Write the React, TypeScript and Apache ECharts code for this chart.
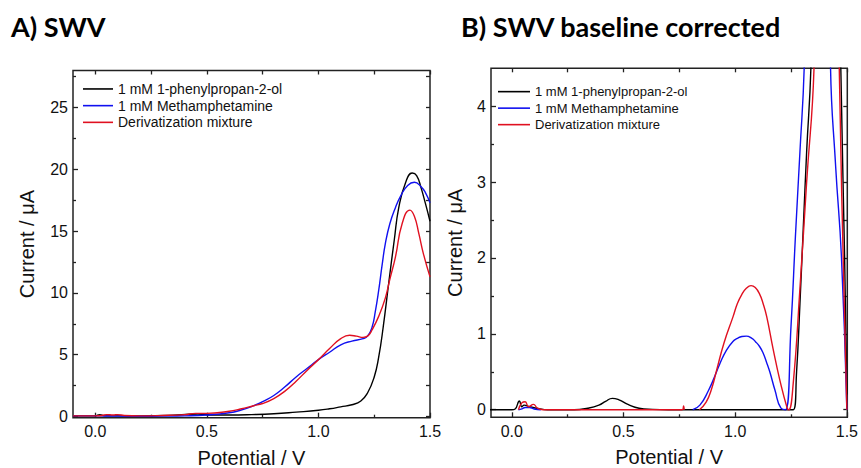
import React, { useEffect, useRef } from "react";
import * as echarts from "echarts";

// ---------- Series names ----------
const NAMES = ["1 mM 1-phenylpropan-2-ol", "1 mM Methamphetamine", "Derivatization mixture"];
const COLORS = ["#000000", "#1010f0", "#e01020"];

// ---------- Panel A (SWV) ----------
const aBlackX = [-0.1, 0.0, 0.02, 0.04, 0.08, 0.2, 0.35, 0.42, 0.46, 0.52, 0.6, 0.7, 0.8, 0.9, 1.0, 1.05, 1.1, 1.15, 1.19, 1.22, 1.25, 1.27, 1.29, 1.315, 1.34, 1.36, 1.39, 1.42, 1.44, 1.46, 1.48, 1.5];
const aBlackY = [0.05, 0.05, 0.15, 0.05, 0.05, 0.05, 0.1, 0.18, 0.2, 0.12, 0.12, 0.15, 0.22, 0.35, 0.5, 0.62, 0.78, 0.95, 1.25, 1.9, 3.2, 4.8, 7.2, 10.8, 14.3, 16.9, 18.9, 19.7, 19.5, 18.5, 17.2, 15.8];

const aBlueX = [-0.1, 0.0, 0.1, 0.2, 0.3, 0.4, 0.5, 0.6, 0.65, 0.71, 0.75, 0.8, 0.85, 0.9, 0.95, 1.0, 1.05, 1.1, 1.15, 1.2, 1.22, 1.24, 1.255, 1.27, 1.285, 1.3, 1.32, 1.345, 1.37, 1.4, 1.43, 1.46, 1.48, 1.5];
const aBlueY = [0.05, 0.05, 0.03, 0.02, 0.03, 0.05, 0.12, 0.3, 0.5, 0.87, 1.2, 1.7, 2.4, 3.2, 3.9, 4.6, 5.2, 5.8, 6.1, 6.3, 6.5, 7.2, 8.5, 10.2, 12.2, 14.0, 15.6, 16.9, 17.9, 18.7, 18.95, 18.6, 18.1, 17.3];

const aRedX = [-0.1, 0.0, 0.03, 0.05, 0.08, 0.1, 0.13, 0.2, 0.3, 0.4, 0.45, 0.5, 0.6, 0.65, 0.71, 0.75, 0.8, 0.85, 0.9, 0.95, 1.0, 1.05, 1.1, 1.14, 1.17, 1.2, 1.22, 1.24, 1.27, 1.3, 1.32, 1.345, 1.375, 1.41, 1.43, 1.45, 1.47, 1.5];
const aRedY = [0.05, 0.05, 0.08, 0.15, 0.12, 0.15, 0.08, 0.05, 0.08, 0.15, 0.25, 0.25, 0.42, 0.6, 0.87, 1.05, 1.45, 2.05, 2.85, 3.75, 4.6, 5.5, 6.3, 6.57, 6.5, 6.4, 6.5, 7.0, 8.1, 9.6, 11.1, 12.9, 15.6, 16.7, 16.2, 14.8, 13.2, 11.3];

// ---------- Panel B (SWV baseline corrected) ----------
const bBlackX = [-0.1, 0.0, 0.015, 0.034, 0.045, 0.055, 0.08, 0.12, 0.16, 0.28, 0.34, 0.39, 0.42, 0.45, 0.48, 0.52, 0.57, 0.63, 0.7, 1.0, 1.26, 1.275, 1.29, 1.305, 1.32, 1.339, 1.38, 1.42, 1.45, 1.473, 1.49, 1.5];
const bBlackY = [0, 0, 0.01, 0.115, 0.04, 0.06, 0.04, 0.015, 0, 0, 0.02, 0.06, 0.11, 0.15, 0.13, 0.07, 0.02, 0.005, 0, 0, 0, 0.5, 1.4, 2.4, 3.4, 4.5, 9, 14, 9, 4.5, 2.0, 0.2];

const bBlueX = [0.03, 0.045, 0.06, 0.08, 0.1, 0.13, 0.16, 0.81, 0.842, 0.88, 0.91, 0.932, 0.96, 0.99, 1.01, 1.03, 1.05, 1.075, 1.09, 1.11, 1.126, 1.14, 1.155, 1.178, 1.205, 1.225, 1.25, 1.27, 1.29, 1.309, 1.35, 1.39, 1.41, 1.427, 1.45, 1.476, 1.5];
const bBlueY = [0, 0.01, 0.03, 0.03, 0.01, 0, null, 0, 0.06, 0.25, 0.45, 0.61, 0.78, 0.9, 0.94, 0.965, 0.97, 0.94, 0.9, 0.83, 0.74, 0.63, 0.5, 0.26, 0.02, 0, 1.1, 2.3, 3.4, 4.5, 9, 14, 9, 4.5, 3.2, 2.0, 0];

const bRedX = [0.03, 0.045, 0.06, 0.075, 0.097, 0.115, 0.14, 0.2, 0.76, 0.766, 0.769, 0.772, 0.78, 0.84, 0.87, 0.895, 0.917, 0.95, 0.991, 1.01, 1.03, 1.05, 1.071, 1.09, 1.11, 1.125, 1.141, 1.17, 1.2, 1.233, 1.24, 1.26, 1.29, 1.32, 1.353, 1.4, 1.44, 1.466, 1.49, 1.5];
const bRedY = [0, 0.09, 0.105, 0.04, 0.07, 0.02, 0, 0, 0, 0.005, 0.05, 0, null, 0, 0.1, 0.28, 0.52, 0.88, 1.23, 1.4, 1.52, 1.6, 1.636, 1.61, 1.52, 1.4, 1.23, 0.8, 0.39, 0.02, 0, 0.35, 1.6, 3.0, 4.5, 10, 10, 4.5, 1.2, 0];

// ---------- Ticks ----------
const xMajor = [0, 0.5, 1.0, 1.5];
const xMinor = [0.25, 0.75, 1.25];
const xAll = [0, 0.25, 0.5, 0.75, 1.0, 1.25, 1.5];
const aYMajor = [0, 5, 10, 15, 20, 25];
const aYMinor = [2.5, 7.5, 12.5, 17.5, 22.5, 27.5];
const bYMajor = [0, 1, 2, 3, 4];
const bYMinor = [0.5, 1.5, 2.5, 3.5];

const FONT = "Liberation Sans";

const zip = (xs: number[], ys: (number | null)[]) => xs.map((x, i) => [x, ys[i]]);

function App() {
  const ref = useRef<HTMLDivElement>(null);
  useEffect(() => {
    if (!ref.current) return;
    const chart = echarts.init(ref.current, null, { renderer: "svg" });

    const grids = [
      { left: 73, top: 70.5, width: 357, height: 347.2 },
      { left: 491, top: 68.3, width: 356.3, height: 349 },
    ];
    const xRanges = [[-0.1, 1.5], [-0.093, 1.502]];
    const yRanges = [[-0.1, 28], [-0.1, 4.5]];
    const yMajors = [aYMajor, bYMajor];
    const yMinors = [aYMinor, bYMinor];
    const yNameGap = [36, 26];
    const tickLine = { color: "#222", width: 1.3 };
    const noLine = { show: false, onZero: false };

    const xAxis: any[] = [];
    const yAxis: any[] = [];
    for (let g = 0; g < 2; g++) {
      const common = { type: "value", gridIndex: g, min: xRanges[g][0], max: xRanges[g][1], splitLine: { show: false }, axisLine: noLine };
      xAxis.push({
        ...common,
        position: "bottom",
        name: "Potential / V",
        nameLocation: "middle",
        nameGap: 30,
        nameTextStyle: { fontFamily: FONT, fontSize: 20, lineHeight: 20, color: "#111" },
        axisTick: { show: true, inside: true, length: 5, customValues: xMajor, lineStyle: tickLine },
        axisLabel: { show: true, margin: 6, customValues: xMajor, formatter: (v: number) => v.toFixed(1), fontFamily: FONT, fontSize: 16, color: "#111" },
      });
      xAxis.push({
        ...common,
        position: "bottom",
        axisTick: { show: true, inside: true, length: 3, customValues: xMinor, lineStyle: tickLine },
        axisLabel: { show: false },
      });
      xAxis.push({
        ...common,
        position: "top",
        axisTick: { show: true, inside: true, length: 4, customValues: xAll, lineStyle: tickLine },
        axisLabel: { show: false },
      });
      const ycommon = { type: "value", gridIndex: g, min: yRanges[g][0], max: yRanges[g][1], splitLine: { show: false }, axisLine: noLine };
      yAxis.push({
        ...ycommon,
        position: "left",
        name: "Current / \u03bcA",
        nameLocation: "middle",
        nameGap: yNameGap[g],
        nameTextStyle: { fontFamily: FONT, fontSize: 20, color: "#111" },
        axisTick: { show: true, inside: true, length: 5, customValues: yMajors[g], lineStyle: tickLine },
        axisLabel: { show: true, margin: 5, customValues: yMajors[g], fontFamily: FONT, fontSize: 16, color: "#111" },
      });
      yAxis.push({
        ...ycommon,
        position: "left",
        axisTick: { show: true, inside: true, length: 3, customValues: yMinors[g], lineStyle: tickLine },
        axisLabel: { show: false },
      });
      yAxis.push({
        ...ycommon,
        position: "right",
        axisTick: { show: true, inside: true, length: 4, customValues: [...yMajors[g], ...yMinors[g]].sort((a, b) => a - b), lineStyle: tickLine },
        axisLabel: { show: false },
      });
    }

    const panelData = [
      [zip(aBlackX, aBlackY), zip(aBlueX, aBlueY), zip(aRedX, aRedY)],
      [zip(bBlackX, bBlackY), zip(bBlueX, bBlueY), zip(bRedX, bRedY)],
    ];
    const series: any[] = [];
    for (let g = 0; g < 2; g++) {
      for (let s = 0; s < 3; s++) {
        series.push({
          type: "line",
          name: NAMES[s],
          xAxisIndex: g * 3,
          yAxisIndex: g * 3,
          data: panelData[g][s],
          showSymbol: false,
          symbol: "none",
          smooth: 0.5,
          connectNulls: false,
          clip: true,
          lineStyle: { color: COLORS[s], width: 1.4 },
          itemStyle: { color: COLORS[s] },
          z: 2 + s,
        });
      }
    }

    const legendCommon = {
      orient: "vertical",
      icon: "rect",
      itemHeight: 1.6,
      itemGap: 0,
      padding: 0,
      data: NAMES,
      selectedMode: false,
    };

    chart.setOption({
      animation: false,
      backgroundColor: "#ffffff",
      grid: grids.map((g) => ({ ...g, show: true, borderColor: "#222", borderWidth: 1.5, backgroundColor: "transparent", outerBoundsMode: "none", containLabel: false })),
      xAxis,
      yAxis,
      series,
      legend: [
        { ...legendCommon, left: 83, top: 80.6, itemWidth: 30, textStyle: { fontFamily: FONT, fontSize: 14, lineHeight: 16.7, color: "#111" } },
        { ...legendCommon, left: 498, top: 83.4, itemWidth: 32, textStyle: { fontFamily: FONT, fontSize: 13, lineHeight: 16.5, color: "#111" } },
      ],
      graphic: [
        { type: "text", x: 11, y: 26, style: { text: "A) SWV", font: 'bold 27px "Lato"', fill: "#000", verticalAlign: "middle" } },
        { type: "text", x: 461, y: 26, style: { text: "B) SWV baseline corrected", font: 'bold 27px "Lato"', fill: "#000", verticalAlign: "middle" } },
      ],
    });
    return () => chart.dispose();
  }, []);
  return (
    <div
      ref={ref}
      style={{ position: "fixed", left: 0, top: 0, width: 861, height: 468, background: "#fff" }}
    />
  );
}

export default App;
